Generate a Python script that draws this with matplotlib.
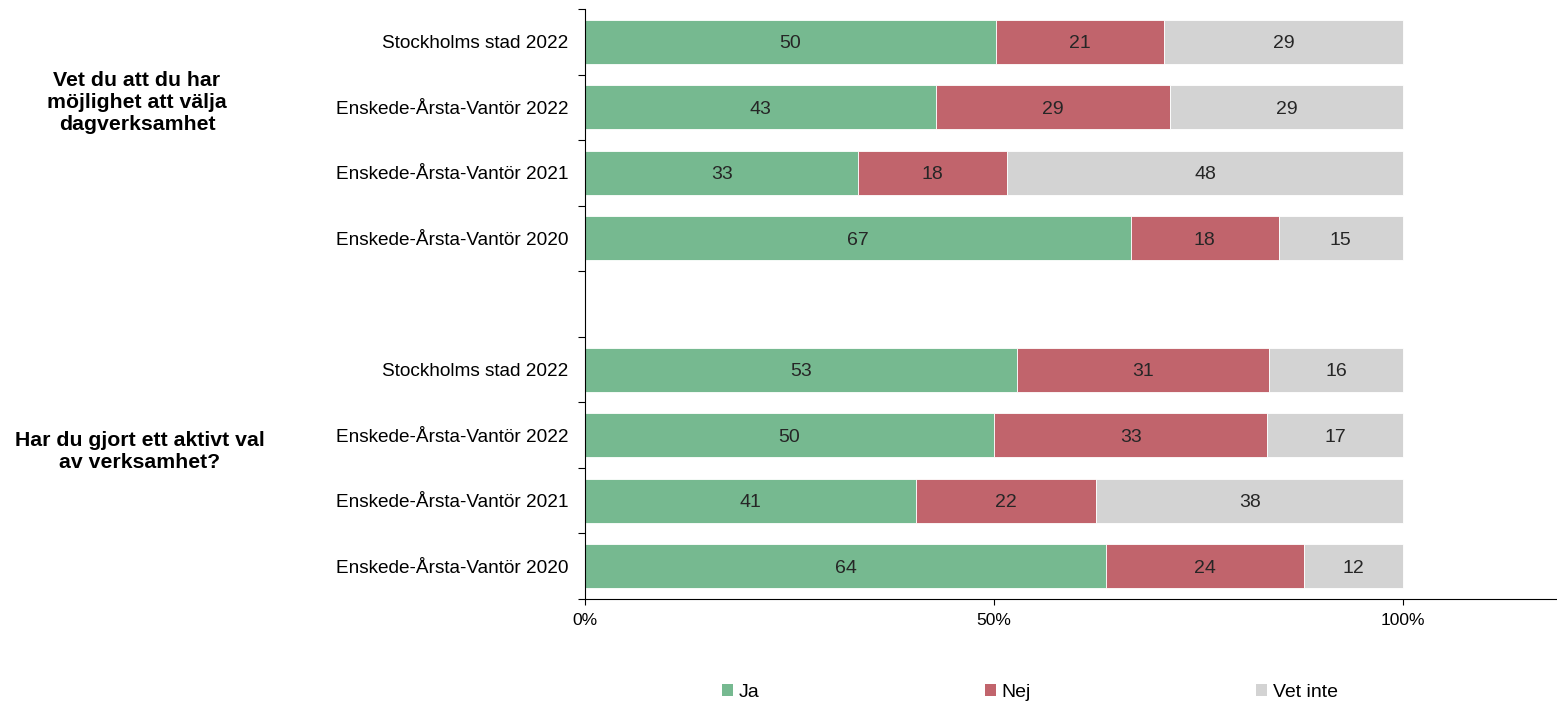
import numpy as np
from matplotlib import pyplot as plt
from matplotlib.patches import Patch
from matplotlib.transforms import blended_transform_factory

plt.rcParams['font.family'] = ['Liberation Sans', 'DejaVu Sans']

# 数据
rader = ['Stockholms stad 2022', 'Enskede-Årsta-Vantör 2022', 'Enskede-Årsta-Vantör 2021', 'Enskede-Årsta-Vantör 2020',
         '',
         'Stockholms stad 2022', 'Enskede-Årsta-Vantör 2022', 'Enskede-Årsta-Vantör 2021', 'Enskede-Årsta-Vantör 2020']
ja = [50.2, 42.9, 33.4, 66.7, 0, 52.8, 50.0, 40.5, 63.7]
nej = [20.6, 28.6, 18.2, 18.1, 0, 30.8, 33.4, 22.0, 24.2]
vet_inte = [29.2, 28.5, 48.4, 15.2, 0, 16.4, 16.6, 37.5, 12.1]
ja_lbl = [50, 43, 33, 67, None, 53, 50, 41, 64]
nej_lbl = [21, 29, 18, 18, None, 31, 33, 22, 24]
vet_lbl = [29, 29, 48, 15, None, 16, 17, 38, 12]
fragor = ['Vet du att du har\nmöjlighet att välja\ndagverksamhet', 'Har du gjort ett aktivt val\nav verksamhet?']

serier = [('Ja', ja, ja_lbl, '#76B990'), ('Nej', nej, nej_lbl, '#C1646C'), ('Vet inte', vet_inte, vet_lbl, '#D3D3D3')]

fig = plt.figure(figsize=(15.57, 7.01), dpi=100)
ax = fig.add_axes([585 / 1557, 1 - 599 / 701, 1 - 585 / 1557, 590 / 701])

y = np.arange(len(rader))
vanster = np.zeros(len(rader))
for namn, varden, etiketter, farg in serier:
    v = np.array(varden) / 100
    ax.barh(y, v, left=vanster, height=0.67, color=farg, edgecolor='white', linewidth=0.6)
    for i in range(len(rader)):
        if etiketter[i] is not None:
            ax.text(vanster[i] + v[i] / 2, y[i], str(etiketter[i]), ha='center', va='center_baseline',
                    fontsize=14, color='#262626')
    vanster += v

ax.set_xlim(0, 972 / 818)
ax.set_ylim(len(rader) - 0.5, -0.5)
ax.set_xticks([0, 0.5, 1.0])
ax.set_xticklabels(['0%', '50%', '100%'], fontsize=12.5)
ax.set_yticks(y)
ax.set_yticklabels(rader, fontsize=13.7)
ax.set_yticks(np.arange(-0.5, len(rader)), minor=True)
ax.tick_params(axis='y', which='major', length=0, pad=12)
ax.tick_params(axis='y', which='minor', length=5, width=0.8)
ax.tick_params(axis='x', length=4, width=0.8, pad=6)
ax.spines['top'].set_visible(False)
ax.spines['right'].set_visible(False)

# 问题标签
trans = blended_transform_factory(fig.transFigure, ax.transData)
ax.text(137 / 1557, 0.93, fragor[0], transform=trans, ha='center', va='center',
        fontsize=15.3, fontweight='bold', linespacing=1.2)
ax.text(140 / 1557, 6.25, fragor[1], transform=trans, ha='center', va='center',
        fontsize=15.3, fontweight='bold', linespacing=1.2)

# 图例
handles = [Patch(facecolor=f, edgecolor='none', label=n) for n, _, _, f in serier]
fig.legend(handles=handles, loc='center', bbox_to_anchor=(0.6615, 0.012), ncol=3, frameon=False,
           fontsize=14, handlelength=0.55, handleheight=0.55, handletextpad=0.3, columnspacing=11.6)

fig.savefig('out.png', dpi=100)
